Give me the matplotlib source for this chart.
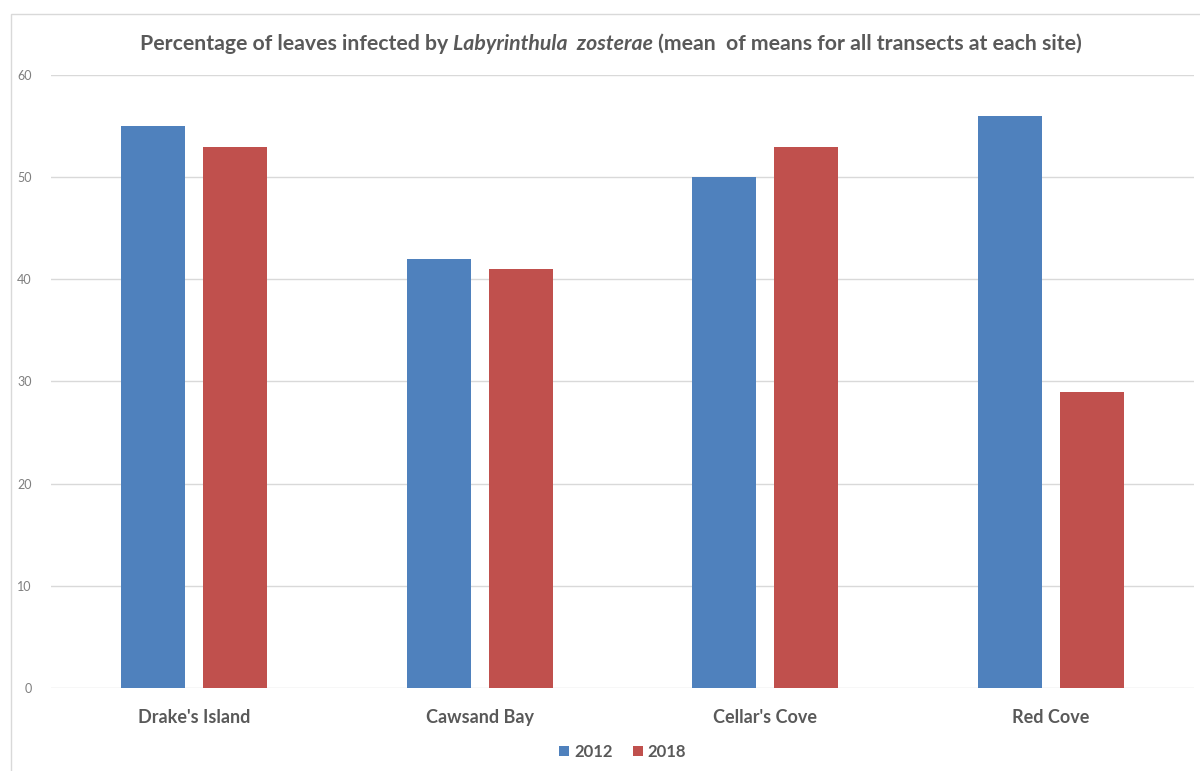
import matplotlib.pyplot as plt
from matplotlib.patches import Rectangle
import numpy as np

# data
sites = ["Drake's Island", "Cawsand Bay", "Cellar's Cove", "Red Cove"]
years = ["2012", "2018"]
vals_2012 = [55, 42, 50, 56]
vals_2018 = [53, 41, 53, 29]

blue = "#4F81BD"
red = "#C0504D"
grey = "#595959"

plt.rcParams['font.family'] = ['Lato', 'DejaVu Sans']

fig = plt.figure(figsize=(12, 7.71), dpi=100)
ax = fig.add_axes([0.0425, 0.1077, 0.9525, 0.795])

x = np.arange(len(sites))
w = 0.224
off = 0.1435
ax.bar(x - off, vals_2012, w, color=blue, label=years[0], zorder=3)
ax.bar(x + off, vals_2018, w, color=red, label=years[1], zorder=3)

ax.set_xlim(-0.5, len(sites) - 0.5)
ax.set_ylim(0, 60)
ax.set_yticks(range(0, 61, 10))
ax.grid(axis="y", color="#D9D9D9", linewidth=1, zorder=0)
for s in ax.spines.values():
    s.set_visible(False)
ax.tick_params(axis="both", length=0)
ax.tick_params(axis="y", labelsize=9, labelcolor="#7F7F7F", pad=14)
ax.set_xticks(x)
ax.set_xticklabels(sites, fontsize=13, fontweight="bold", color=grey)
ax.tick_params(axis="x", pad=15)

leg = ax.legend(loc="upper center", bbox_to_anchor=(0.5, -0.067), ncol=2, frameon=False,
                handlelength=0.6, handleheight=0.6, handletextpad=0.3, columnspacing=1.2,
                prop={"size": 12, "weight": "bold"})
for t in leg.get_texts():
    t.set_color(grey)

# outer chart border
fig.patches.append(Rectangle((11 / 1200, -0.01), 1.2, 1 - 14 / 771 + 0.01, transform=fig.transFigure,
                             fill=False, edgecolor="#D9D9D9", linewidth=1))

# title with italic species name
parts = [("Percentage of leaves infected by ", "normal"),
         ("Labyrinthula  zosterae", "italic"),
         (" (mean  of means for all transects at each site)", "normal")]
texts = [fig.text(0, 1 - 44 / 771, p, fontsize=15.3, fontweight="bold", style=st, color=grey,
                  va="center", ha="left") for p, st in parts]
r = fig.canvas.get_renderer()
widths = [t.get_window_extent(r).width for t in texts]
xpos = 611 - sum(widths) / 2
for t, wd in zip(texts, widths):
    t.set_x(xpos / 1200)
    xpos += wd

fig.savefig("out.png", dpi=100)
